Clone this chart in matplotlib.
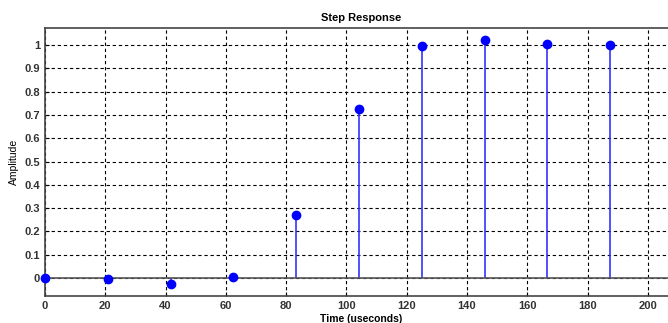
import numpy as np
import matplotlib.pyplot as plt

plt.rcParams['font.family'] = ['Liberation Sans', 'DejaVu Sans']

# sample times (useconds) and step response amplitude
t = [0, 20.83, 41.67, 62.5, 83.33, 104.17, 125.0, 145.83, 166.67, 187.5, 208.33]
amp = [0.0, -0.005, -0.025, 0.005, 0.27, 0.725, 0.995, 1.02, 1.003, 1.0, 1.0]
xticks = [0, 20, 40, 60, 80, 100, 120, 140, 160, 180, 200]
yticks = [0, 0.1, 0.2, 0.3, 0.4, 0.5, 0.6, 0.7, 0.8, 0.9, 1]

fig = plt.figure(figsize=(6.68, 3.23), dpi=100)
ax = fig.add_axes([0.0674, 0.0836, 0.9476, 0.8297])

ml, sl, bl = ax.stem(t, amp, basefmt='k-')
plt.setp(sl, color='#3333ff', linewidth=1.2)
plt.setp(ml, color='#0000ff', markersize=6, clip_on=False, zorder=5)
plt.setp(bl, color='#555555', linewidth=1.2)

ax.set_xlim(0, 210)
ax.set_ylim(-0.077, 1.073)
ax.set_xticks(xticks)
ax.set_yticks(yticks)
ax.set_yticklabels(['0', '0.1', '0.2', '0.3', '0.4', '0.5', '0.6', '0.7', '0.8', '0.9', '1'])
ax.tick_params(direction='in', labelsize=8, length=3)
for lab in ax.get_xticklabels() + ax.get_yticklabels():
    lab.set_fontweight('bold')
    lab.set_color('#333333')
ax.grid(True, color='black', linestyle=(0, (3, 2.5)), linewidth=0.8)
for s in ax.spines.values():
    s.set_color('#444444')
    s.set_linewidth(1.2)

ax.set_title('Step Response', fontsize=8, fontweight='bold', pad=5)
ax.set_xlabel('Time (useconds)', fontsize=7.5, fontweight='bold', labelpad=2)
ax.set_ylabel('Amplitude', fontsize=7.5, labelpad=4)

fig.savefig('out.png', dpi=100)
